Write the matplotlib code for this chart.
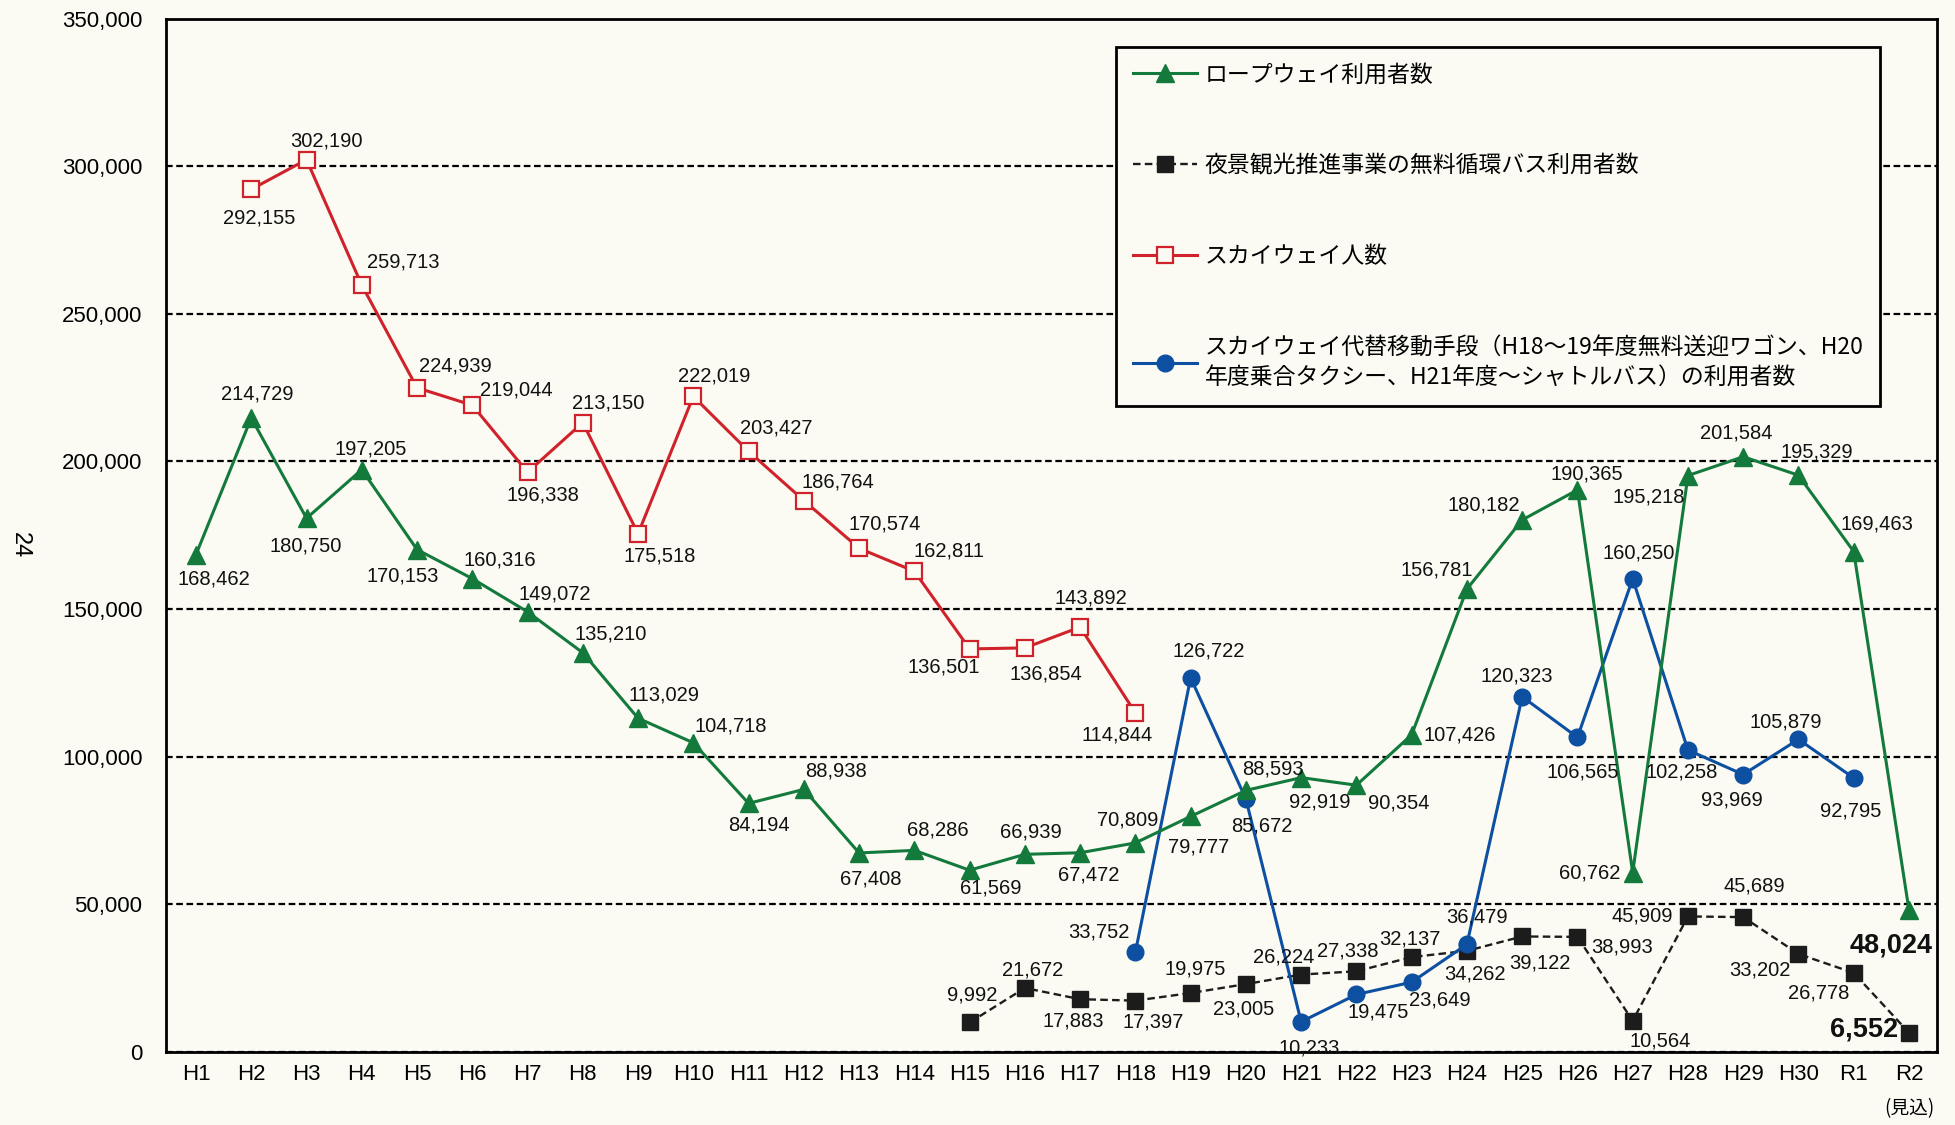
import numpy as np
import matplotlib
matplotlib.use('Agg')
import matplotlib.pyplot as plt
from matplotlib import font_manager as fm

names = {f.name for f in fm.fontManager.ttflist}
NARROW = 'Liberation Sans Narrow' if 'Liberation Sans Narrow' in names else 'Liberation Sans'
SANS = 'Liberation Sans'
JP = 'Noto Sans CJK JP'

nan = np.nan
categories = ['H1', 'H2', 'H3', 'H4', 'H5', 'H6', 'H7', 'H8', 'H9', 'H10',
              'H11', 'H12', 'H13', 'H14', 'H15', 'H16', 'H17', 'H18', 'H19', 'H20',
              'H21', 'H22', 'H23', 'H24', 'H25', 'H26', 'H27', 'H28', 'H29', 'H30',
              'R1', 'R2']

ropeway = [168462, 214729, 180750, 197205, 170153, 160316, 149072, 135210, 113029, 104718,
           84194, 88938, 67408, 68286, 61569, 66939, 67472, 70809, 79777, 88593,
           92919, 90354, 107426, 156781, 180182, 190365, 60762, 195218, 201584, 195329,
           169463, 48024]

skyway = [nan, 292155, 302190, 259713, 224939, 219044, 196338, 213150, 175518, 222019,
          203427, 186764, 170574, 162811, 136501, 136854, 143892, 114844, nan, nan,
          nan, nan, nan, nan, nan, nan, nan, nan, nan, nan,
          nan, nan]

night_bus = [nan, nan, nan, nan, nan, nan, nan, nan, nan, nan,
             nan, nan, nan, nan, 9992, 21672, 17883, 17397, 19975, 23005,
             26224, 27338, 32137, 34262, 39122, 38993, 10564, 45909, 45689, 33202,
             26778, 6552]

alt_transport = [nan, nan, nan, nan, nan, nan, nan, nan, nan, nan,
                 nan, nan, nan, nan, nan, nan, nan, 33752, 126722, 85672,
                 10233, 19475, 23649, 36479, 120323, 106565, 160250, 102258, 93969, 105879,
                 92795, nan]

legend_labels = ['ロープウェイ利用者数',
                 '夜景観光推進事業の無料循環バス利用者数',
                 'スカイウェイ人数',
                 'スカイウェイ代替移動手段（H18～19年度無料送迎ワゴン、H20\n年度乗合タクシー、H21年度～シャトルバス）の利用者数']

y_ticks = [0, 50000, 100000, 150000, 200000, 250000, 300000, 350000]

# label offsets (pixels, dx, dy up)
off_rope = [(18, -24), (6, 24), (-1, -28), (9, 21), (-14, -26), (28, 19), (27, 18), (28, 19),
            (26, 23), (37, 17), (10, -22), (32, 18), (12, -26), (23, 20), (21, -18), (6, 22),
            (9, -22), (-8, 23), (8, -31), (27, 21), (19, -24), (42, -18), (48, 0), (-30, 19),
            (-38, 15), (9, 16), (-43, 0), (-39, -21), (-7, 24), (18, 23), (23, 28), (-18, -35)]
off_sky = [None, (8, -29), (20, 19), (41, 23), (38, 22), (44, 15), (15, -23), (25, 20),
           (22, -22), (21, 20), (28, 23), (34, 19), (26, 24), (35, 20), (-26, -18), (21, -26),
           (11, 29), (-18, -22)]
off_bus = {14: (3, 27), 15: (8, 18), 16: (-7, -22), 17: (18, -21), 18: (5, 24), 19: (-2, -25),
           20: (-17, 18), 21: (-9, 20), 22: (-2, 18), 23: (8, -23), 24: (18, -27), 25: (45, -10),
           26: (27, -20), 27: (-46, 0), 28: (11, 31), 29: (-39, -16), 30: (-35, -20), 31: (-45, 3)}
off_alt = {17: (-36, 20), 18: (18, 27), 19: (16, -27), 20: (8, -26), 21: (22, -18), 22: (28, -18),
           23: (10, 27), 24: (-5, 21), 25: (5, -35), 26: (6, 26), 27: (-6, -22), 28: (-11, -25),
           29: (-13, 17), 30: (-3, -33)}

BG = '#fbfbf4'
GREEN = '#137a3c'
RED = '#d0222a'
BLUE = '#0d4fa0'
BLACK = '#1c1c1c'

fig = plt.figure(figsize=(19.56, 11.25), dpi=100, facecolor=BG)
ax = fig.add_axes([166 / 1956, 1 - 1052 / 1125, 1771 / 1956, (1052 - 18.5) / 1125])
ax.set_facecolor(BG)

x = np.arange(len(categories))
l_rope, = ax.plot(x, ropeway, color=GREEN, lw=2.2, marker='^', ms=12.5, mec=GREEN, zorder=4)
l_bus, = ax.plot(x, night_bus, color=BLACK, lw=1.7, ls=(0, (3.2, 1.8)), marker='s', ms=11,
                 mfc=BLACK, mec=BLACK, zorder=3)
l_sky, = ax.plot(x, skyway, color=RED, lw=2.2, marker='s', ms=11, mfc=BG, mec=RED, mew=1.6, zorder=4)
l_alt, = ax.plot(x, alt_transport, color=BLUE, lw=2.2, marker='o', ms=12, mec=BLUE, zorder=3)

ax.set_xlim(-0.543, 31.507)
ax.set_ylim(0, 350000)
ax.set_yticks(y_ticks)
ax.set_yticklabels([f'{v:,}' for v in y_ticks], fontsize=16, family=SANS)
ax.set_xticks(x)
ax.set_xticklabels(categories, fontsize=16, family=NARROW)
ax.tick_params(axis='both', length=0)
ax.tick_params(axis='y', pad=17)
ax.tick_params(axis='x', pad=9)
for sp in ax.spines.values():
    sp.set_linewidth(2.0)
    sp.set_color('black')
ax.grid(axis='y', color='black', lw=1.6, ls=(0, (3.0, 1.6)))
ax.set_axisbelow(True)


def put(i, v, off, bold=False):
    if off is None or np.isnan(v):
        return
    kw = dict(fontsize=14.5, family=NARROW)
    if bold:
        kw = dict(fontsize=19.5, family=SANS, fontweight='bold')
    ax.annotate(f'{int(v):,}', (i, v), xytext=off, textcoords='offset pixels',
                ha='center', va='center', color='#111111', zorder=6, **kw)


for i, v in enumerate(ropeway):
    put(i, v, off_rope[i], bold=(i == len(ropeway) - 1))
for i, v in enumerate(skyway):
    if i < len(off_sky):
        put(i, v, off_sky[i])
for i, v in enumerate(night_bus):
    if i in off_bus:
        put(i, v, off_bus[i], bold=(i == len(night_bus) - 1))
for i, v in enumerate(alt_transport):
    if i in off_alt:
        put(i, v, off_alt[i])

ax.annotate('(見込)', (len(categories) - 1, 0), xytext=(0, -57), textcoords='offset pixels',
            ha='center', va='center', fontsize=13.5, family=[JP, 'DejaVu Sans'])

fig.text(20 / 1956, 1 - 545 / 1125, '24', rotation=-90, fontsize=17, family=SANS,
         ha='center', va='center')

leg = ax.legend([l_rope, l_bus, l_sky, l_alt], legend_labels, loc='upper left',
                bbox_to_anchor=((1116 - 166) / 1771, 1 - (47 - 18.5) / 1033.5),
                prop={'family': [JP, 'DejaVu Sans'], 'size': 16.5},
                handlelength=2.8, handletextpad=0.35, labelspacing=2.95, borderpad=0.72,
                borderaxespad=0, fancybox=False, framealpha=1, facecolor=BG, edgecolor='black')
leg.get_frame().set_linewidth(2.0)
leg.get_texts()[3].set_linespacing(1.45)
leg.set_zorder(10)

fig.savefig('out.png', dpi=100, facecolor=BG)
